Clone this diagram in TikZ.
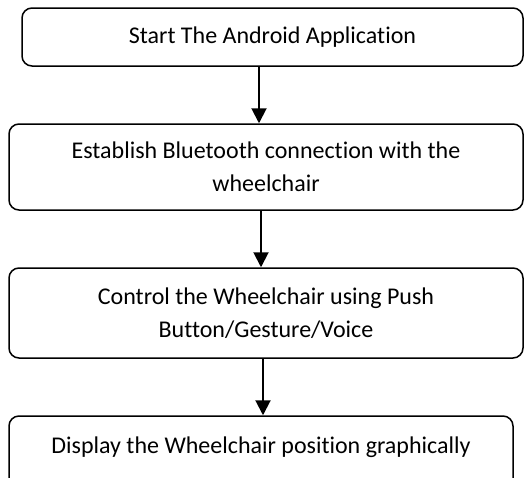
\documentclass[tikz,border=0pt]{standalone}
\usepackage{fontspec}
\setmainfont{Carlito}[Ligatures=NoCommon]
\usetikzlibrary{arrows.meta}
\begin{document}
\begin{tikzpicture}[x=1pt,y=-1pt,
  box/.style={draw, line width=1.5pt, rounded corners=10pt, inner sep=0pt, align=center,
    font=\fontsize{24}{33}\selectfont},
  arr/.style={line width=2pt, -{Triangle[width=15pt,length=15pt]}}]
\useasboundingbox (0,0) rectangle (524,477);
\clip (0,0) rectangle (524,477);
\node[box, minimum width=501pt, minimum height=58pt] (b1) at (272.5,37) {Start The Android Application};
\node[box, minimum width=514pt, minimum height=86pt] (b2) at (266,167) {Establish Bluetooth connection with the\\wheelchair};
\node[box, minimum width=514pt, minimum height=90pt] (b3) at (266,313) {Control the Wheelchair using Push\\Button/Gesture/Voice};
\node[box, minimum width=504pt, minimum height=80pt, text height=16pt, text depth=22pt] (b4) at (261,456) {Display the Wheelchair position graphically};
\coordinate (a1) at (259,0);
\coordinate (a2) at (261,0);
\coordinate (a3) at (263,0);
\draw[arr] (b1.south -| a1) -- (b2.north -| a1);
\draw[arr] (b2.south -| a2) -- (b3.north -| a2);
\draw[arr] (b3.south -| a3) -- (b4.north -| a3);
\end{tikzpicture}
\end{document}
